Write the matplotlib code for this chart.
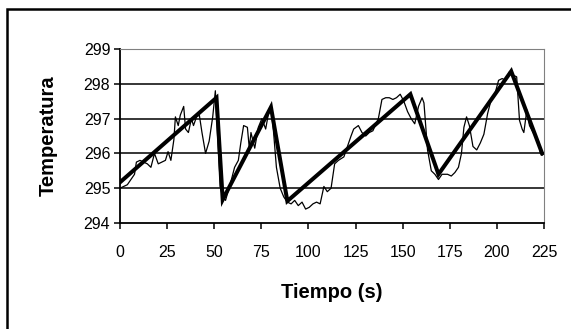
import matplotlib.pyplot as plt
from matplotlib.patches import Rectangle

plt.rcParams['font.family'] = ['Liberation Sans', 'DejaVu Sans']

# datos medidos (línea fina)
t_med = [0, 1.9, 3.9, 5.8, 7.7, 8.7, 10.6, 12.6, 14.5, 16.4, 18.3, 20.3, 22.2, 24.1,
         25.5, 27, 28.6, 29.4, 30.9, 32, 33.8, 34.8, 36.3, 37.9, 39, 40.6, 42.1, 43.5,
         45.4, 47.3, 49.2, 50.6, 51.6, 53.1, 54.5, 56, 57.6, 58.9, 60.8, 62.8, 64.1,
         65.6, 67.6, 68.6, 69.5, 71.5, 73.4, 75.3, 77.3, 78.8, 80.1, 81.5, 83, 85,
         86.9, 88.8, 90.8, 92.7, 94.6, 96.6, 98.5, 100.4, 102.4, 104.3, 106.2, 108.2,
         110, 112, 113.9, 115.9, 118.8, 120.7, 122.6, 124, 126.5, 128.4, 130.4, 132.3,
         134.2, 137.1, 139, 141, 142.9, 144.8, 146.7, 148.7, 150.6, 152.6, 154.5,
         156.4, 158.4, 160.3, 161.3, 163.2, 165.2, 167.1, 169, 170.9, 173.8, 175.8,
         177.7, 179.6, 181.2, 182.5, 183.9, 185.4, 187.3, 189.3, 191.2, 193.1, 195.1,
         197, 198.9, 200.9, 202.8, 204.7, 206.7, 208.6, 210.5, 212, 213.4, 214.3,
         215.9, 217.3, 219.2, 221.2, 222.1, 223.1, 224]
T_med = [295.0, 295.05, 295.1, 295.25, 295.4, 295.75, 295.8, 295.75, 295.7, 295.6,
         296.0, 295.7, 295.75, 295.8, 296.05, 295.8, 296.4, 297.05, 296.8, 297.1,
         297.35, 296.7, 296.6, 297.0, 296.8, 297.05, 297.1, 296.6, 296.0, 296.35,
         297.05, 297.8, 296.7, 295.05, 294.75, 294.65, 294.95, 295.2, 295.6, 295.8,
         296.3, 296.8, 296.75, 296.15, 296.6, 296.15, 296.75, 297.0, 296.7, 297.15,
         297.35, 296.6, 295.6, 295.0, 294.75, 294.6, 294.55, 294.65, 294.5, 294.6,
         294.4, 294.45, 294.55, 294.6, 294.55, 295.05, 294.9, 295.0, 295.7, 295.8,
         295.9, 296.2, 296.5, 296.7, 296.8, 296.6, 296.5, 296.6, 296.65, 297.0,
         297.55, 297.6, 297.6, 297.55, 297.6, 297.7, 297.5, 297.2, 297.0, 296.85,
         297.35, 297.6, 297.45, 296.1, 295.5, 295.4, 295.25, 295.4, 295.4, 295.35,
         295.45, 295.6, 296.0, 296.75, 297.05, 296.8, 296.2, 296.1, 296.3, 296.55,
         297.15, 297.55, 297.7, 298.1, 298.15, 298.1, 298.35, 298.25, 298.2, 296.95,
         296.7, 296.6, 297.25, 296.8, 296.6, 296.45, 296.35, 296.0, 295.95]

# modelo (línea gruesa)
t_mod = [0, 51.2, 54.5, 80.1, 88.8, 154.1, 169, 207.6, 224]
T_mod = [295.17, 297.6, 294.67, 297.33, 294.63, 297.7, 295.4, 298.36, 296.0]

fig = plt.figure(figsize=(5.71, 3.29), dpi=100)
ax = fig.add_axes([120 / 571, 1 - 223 / 329, 424 / 571, 174 / 329])

# marco exterior
fig.patches.append(Rectangle((7 / 571, -0.1), 1.2, 1.1 - 9.5 / 329,
                             transform=fig.transFigure, fill=False,
                             edgecolor='black', linewidth=1.8))

for y in [295, 296, 297, 298]:
    ax.axhline(y, color='black', linewidth=1.1, zorder=1)

ax.plot(t_med, T_med, color='black', linewidth=0.9, zorder=3)
ax.plot(t_mod, T_mod, color='black', linewidth=2.9, zorder=4,
        solid_joinstyle='miter')

ax.set_xlim(0, 225)
ax.set_ylim(294, 299)
ax.set_xticks(range(0, 226, 25))
ax.set_yticks(range(294, 300))

ax.spines['top'].set_color('#808080')
ax.spines['right'].set_color('#808080')
ax.spines['left'].set_linewidth(1.3)
ax.spines['bottom'].set_linewidth(1.3)

ax.tick_params(axis='x', direction='out', length=4.5, width=1.1, pad=11,
               labelsize=11.5)
ax.tick_params(axis='y', direction='out', length=4.5, width=1.1, pad=2.5,
               labelsize=11.5)

ax.set_xlabel('Tiempo (s)', fontsize=14.5, fontweight='bold', labelpad=17)
ax.set_ylabel('Temperatura', fontsize=14.5, fontweight='bold', labelpad=19)

fig.savefig('out.png', dpi=100)
